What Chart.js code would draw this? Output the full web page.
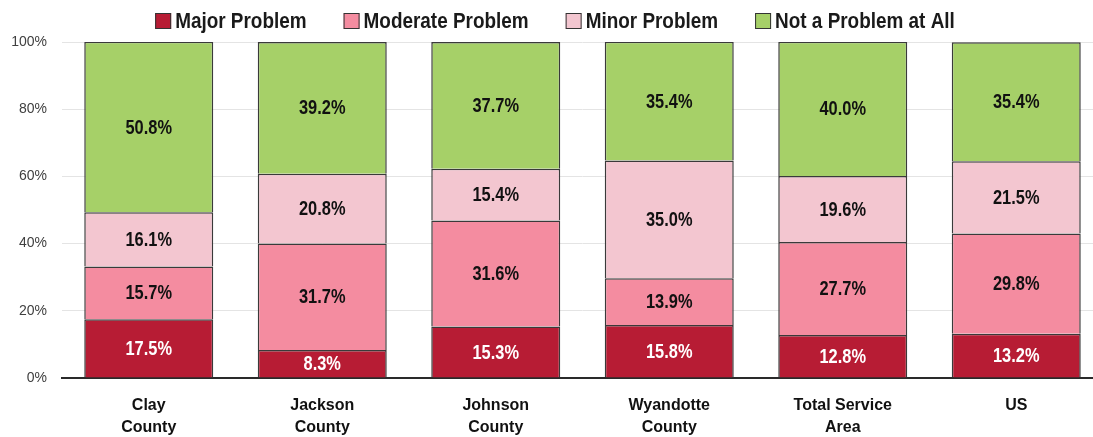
<!DOCTYPE html>
<html>
<head>
<meta charset="utf-8">
<script src="https://cdn.jsdelivr.net/npm/chart.js@4.4.1/dist/chart.umd.min.js"></script>
<style>
  html, body { margin: 0; padding: 0; background: #ffffff; overflow: hidden; }
  #wrap { position: relative; width: 1103px; height: 437px; }
</style>
</head>
<body>
<div id="wrap"><canvas id="c"></canvas></div>
<script>
const categories = [["Clay", "County"], ["Jackson", "County"], ["Johnson", "County"], ["Wyandotte", "County"], ["Total Service", "Area"], ["US"]];
const seriesNames = ["Major Problem", "Moderate Problem", "Minor Problem", "Not a Problem at All"];
const majorProblem = [17.5, 8.3, 15.3, 15.8, 12.8, 13.2];
const moderateProblem = [15.7, 31.7, 31.6, 13.9, 27.7, 29.8];
const minorProblem = [16.1, 20.8, 15.4, 35.0, 19.6, 21.5];
const notAProblem = [50.8, 39.2, 37.7, 35.4, 40.0, 35.4];
const yTicks = [0, 20, 40, 60, 80, 100];

const colors = ["#B71C34", "#F48CA0", "#F3C6D0", "#A6D068"];
const labelColors = ["#ffffff", "#111111", "#111111", "#111111"];
const FAMILY = '"Liberation Sans", Arial, sans-serif';
const NARROW = 0.82;
const LEGEND_NARROW = 0.86;

const valueLabels = {
  id: 'valueLabels',
  afterDatasetsDraw(chart) {
    const ctx = chart.ctx;
    chart.data.datasets.forEach((ds, di) => {
      const meta = chart.getDatasetMeta(di);
      meta.data.forEach((el, i) => {
        const v = ds.data[i];
        ctx.save();
        ctx.font = 'bold 20px ' + FAMILY;
        ctx.textAlign = 'center';
        ctx.textBaseline = 'middle';
        ctx.fillStyle = labelColors[di];
        ctx.translate(el.x, (el.y + el.base) / 2 + 1);
        ctx.scale(NARROW, 1);
        ctx.fillText(v.toFixed(1) + '%', 0, 0);
        ctx.restore();
      });
    });
  }
};

const topLegend = {
  id: 'topLegend',
  afterDraw(chart) {
    const ctx = chart.ctx;
    ctx.save();
    ctx.font = 'bold 22px ' + FAMILY;
    const box = 16, gapBox = 4, gapItem = 37;
    const items = chart.data.datasets.map(ds => ({
      text: ds.label, color: ds.backgroundColor, w: ctx.measureText(ds.label).width * LEGEND_NARROW
    }));
    const total = items.reduce((s, it) => s + box + gapBox + it.w, 0) + gapItem * (items.length - 1);
    let x = 555 - total / 2;
    const cy = 21;
    items.forEach(it => {
      ctx.fillStyle = it.color;
      ctx.fillRect(x, cy - box / 2, box, box);
      ctx.strokeStyle = '#333333';
      ctx.lineWidth = 1;
      ctx.strokeRect(x + 0.5, cy - box / 2 + 0.5, box - 1, box - 1);
      ctx.save();
      ctx.fillStyle = '#1a1a1a';
      ctx.textBaseline = 'middle';
      ctx.textAlign = 'left';
      ctx.translate(x + box + gapBox, cy + 1);
      ctx.scale(LEGEND_NARROW, 1);
      ctx.fillText(it.text, 0, 0);
      ctx.restore();
      x += box + gapBox + it.w + gapItem;
    });
    ctx.restore();
  }
};

const series = [majorProblem, moderateProblem, minorProblem, notAProblem];

new Chart(document.getElementById('c'), {
  type: 'bar',
  data: {
    labels: categories,
    datasets: series.map((d, i) => ({
      label: seriesNames[i],
      data: d,
      backgroundColor: colors[i],
      borderColor: '#3a3a3a',
      borderWidth: 1.5,
      barPercentage: 0.7435,
      categoryPercentage: 1.0
    }))
  },
  options: {
    responsive: true,
    maintainAspectRatio: false,
    animation: false,
    layout: { padding: { top: 42, left: 0, right: 0, bottom: 0 } },
    plugins: {
      legend: { display: false },
      tooltip: { enabled: false }
    },
    scales: {
      x: {
        stacked: true,
        grid: { display: false, drawTicks: false },
        border: { display: true, color: '#2a2a2a', width: 2 },
        ticks: {
          color: '#111111',
          padding: 17,
          font: { family: FAMILY, size: 16, weight: 'bold', lineHeight: 1.35 },
          maxRotation: 0,
          autoSkip: false
        },
        afterFit(axis) { axis.height = 59; }
      },
      y: {
        stacked: true,
        min: 0,
        max: 100,
        afterBuildTicks(axis) { axis.ticks = yTicks.map(v => ({ value: v })); },
        grid: { color: '#e4e4e4', lineWidth: 1, drawTicks: false },
        border: { display: false },
        ticks: {
          color: '#404040',
          padding: 15,
          font: { family: FAMILY, size: 14 },
          callback: v => v + '%'
        },
        afterFit(axis) { axis.width = 62; }
      }
    }
  },
  plugins: [valueLabels, topLegend]
});
</script>
</body>
</html>
